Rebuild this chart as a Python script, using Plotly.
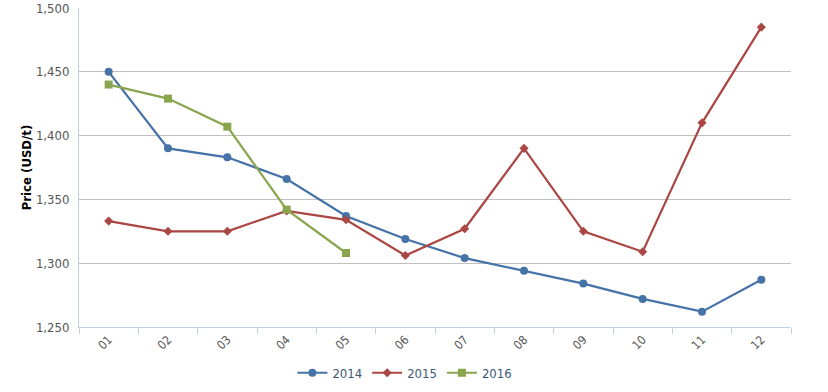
import plotly.graph_objects as go

months = ["01", "02", "03", "04", "05", "06", "07", "08", "09", "10", "11", "12"]
y2014 = [1450, 1390, 1383, 1366, 1337, 1319, 1304, 1294, 1284, 1272, 1262, 1287]
y2015 = [1333, 1325, 1325, 1341, 1334, 1306, 1327, 1390, 1325, 1309, 1410, 1485]
y2016 = [1440, 1429, 1407, 1342, 1308]
months2016 = months[:len(y2016)]

FONT = "DejaVu Sans Condensed, Liberation Sans Narrow, sans-serif"

fig = go.Figure()
series = [
    ("2014", months, y2014, "#4572A7", "circle", 8),
    ("2015", months, y2015, "#AA4643", "diamond", 7),
    ("2016", months2016, y2016, "#89A54E", "square", 8),
]
for name, xs, ys, color, sym, size in series:
    fig.add_trace(go.Scatter(
        x=xs, y=ys, name=name, mode="lines+markers",
        line=dict(color=color, width=2.2),
        marker=dict(symbol=sym, size=size, color=color),
    ))

fig.update_layout(
    width=828, height=392,
    margin=dict(l=79, r=37, t=8, b=65, autoexpand=False),
    paper_bgcolor="white", plot_bgcolor="white",
    font=dict(family=FONT, size=12, color="#555555"),
    showlegend=True,
    legend=dict(orientation="h", xref="container", x=0.489, xanchor="center",
                yref="container", y=0.049, yanchor="middle",
                font=dict(size=13, color="#3E576F"),
                itemwidth=30, tracegroupgap=0),
)
fig.update_xaxes(
    type="category", categoryorder="array", categoryarray=months,
    range=[-0.5, 11.5], showgrid=False, automargin=False,
    showline=True, linecolor="#C0D0E0", linewidth=1,
    ticks="outside", tickson="boundaries", ticklen=6, tickcolor="#C0D0E0",
    tickangle=-45, tickfont=dict(size=12, color="#555555"),
)
fig.update_yaxes(
    range=[1250, 1500], dtick=50, tickformat=",", automargin=False,
    showgrid=True, gridcolor="#C0C0C0", gridwidth=1,
    showline=True, linecolor="#C0D0E0", linewidth=1,
    zeroline=False, ticks="", ticklabelstandoff=6,
    tickfont=dict(size=13, color="#555555"),
    title=dict(text="<b>Price (USD/t)</b>", font=dict(size=13, color="#000000"), standoff=1),
)

fig.write_html("out.html", config={"displayModeBar": False},
               post_script="document.body.style.margin='0px';")
